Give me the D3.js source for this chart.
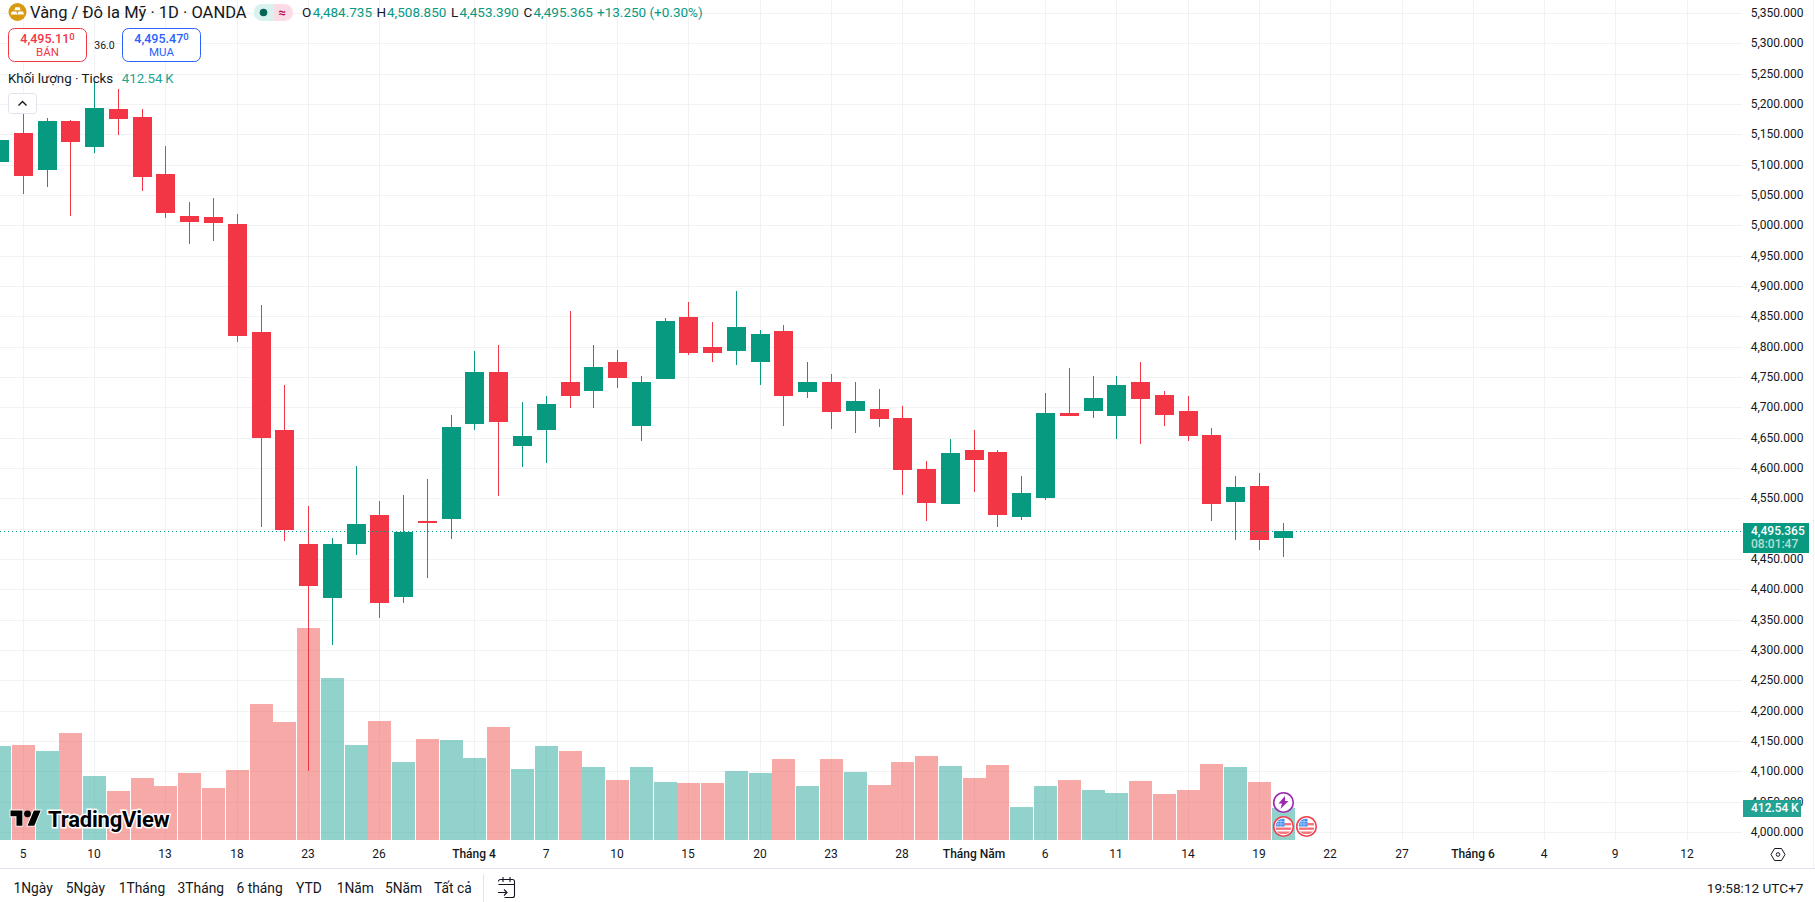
<!DOCTYPE html>
<html lang="vi">
<head>
<meta charset="utf-8">
<title>Vàng / Đô la Mỹ · 1D · OANDA</title>
<script src="https://cdn.jsdelivr.net/npm/d3@7/dist/d3.min.js"></script>
<style>
  html, body { margin: 0; padding: 0; background: #fff; overflow: hidden; }
  svg { display: block; }
  text { font-family: Roboto, "Liberation Sans", sans-serif; fill: #131722; }
</style>
</head>
<body>
<svg id="chart" width="1815" height="902"></svg>
<script>
// Daily OHLC for XAU/USD; the first session sits just left of the visible pane.
const firstBar = -1;
const opens = [5105,5153,5091,5172,5128.5,5192,5179,5085,5016,5013,5003,4825,4662,4474,4385,4475,4523,4388,4513,4516,4673,4759,4637,4662,4742,4727,4774,4670,4746,4849,4800,4793,4774,4826,4726,4742,4694,4698,4683,4599,4540,4630,4627,4520,4551,4691,4694,4686,4741,4721,4694,4655,4544,4571,4484.735];
const highs = [5156,5207,5177,5173,5237,5224,5192,5130,5039,5045,5018,4868,4737,4538,4485,4604,4546,4556,4582,4688,4793,4802,4708,4719,4859,4802,4795,4751,4848,4873,4840,4892,4828,4835,4774,4755,4741,4731,4703,4612,4648,4662,4630,4587,4724,4765,4751,4751,4775,4727,4719,4666,4586,4591,4508.85];
const lows = [5096,5052,5064,5016,5119,5149,5056,5011.5,4969,4975,4808,4503,4479,4101,4308,4457,4352,4378,4419,4483,4663,4554,4602,4609,4699,4699,4732,4645,4746,4787,4774,4769,4737,4670,4716,4665,4658,4668,4556,4512,4540,4561,4502,4515,4548,4686,4683,4648,4640,4670,4645,4512,4482,4465,4453.39];
const closes = [5141,5081,5172,5137,5194,5176,5079,5020,5006,5004,4818,4650,4497,4406,4475,4508,4378,4495,4510,4668,4759,4676,4652,4706,4718,4767,4749,4741,4843,4790,4790,4833,4821,4719,4741,4693,4711,4681,4596,4543,4624,4614,4523,4558,4691,4686,4716,4736,4714,4688,4652,4540,4568,4482,4495.365];
// Tick volume in thousands, one per session.
const volumes = [1212,1225,1147,1379,825,632,799,696,864,670,902,1753,1521,2733,2088,1225,1534,1005,1302,1289,1057,1457,915,1212,1147,941,773,941,748,735,735,889,864,1044,696,1044,877,709,1005,1083,954,799,967,425,696,773,645,606,761,593,645,980,941,748,412.54];
// Volume colours are fixed per session, following the direction of the feed's previous close.
const volumeUp = [1,0,1,0,1,0,0,0,0,0,0,0,0,0,1,1,0,1,0,1,1,0,1,1,0,1,0,1,1,0,0,1,1,0,1,0,1,0,0,0,1,0,0,1,1,0,1,1,0,0,0,0,1,0,1];

const priceTicks = d3.range(4000, 5351, 50);
const dateTickBars = [0,3,6,9,12,15,19,22,25,28,31,34,37,40,43,46,49,52,55,58,61,64,67,70];
const dateTickLabels = ["5","10","13","18","23","26","Tháng 4","7","10","15","20","23","28","Tháng Năm","6","11","14","19","22","27","Tháng 6","4","9","12"];
const monthLabels = ["Tháng 4","Tháng Năm","Tháng 6"];
const rangeButtons = ["1Ngày","5Ngày","1Tháng","3Tháng","6 tháng","YTD","1Năm","5Năm","Tất cả"];
const rangeButtonLefts = [13.5,65.7,118.7,177.6,236.5,296,336.7,385,434];

const lastPrice = closes[closes.length - 1];
const lastVolume = volumes[volumes.length - 1];

const UP = "#089981", DOWN = "#f23645";
const VOL_UP = "rgb(38,166,154)", VOL_DOWN = "rgb(239,83,80)";
const GRID = "#f1f2f3";
const paneRight = 1742, paneBottom = 840;

const svg = d3.select("#chart");

// Bars land on whole pixel columns, so the scale floors its output.
const x = d3.scaleLinear().domain([0, 70]).range([23.3, 1687.3])
  .interpolate((a, b) => t => Math.floor(a + t * (b - a)));
const y = d3.scaleLinear().domain([4000, 5350]).rangeRound([832, 13]);
const vol = d3.scaleLinear().domain([0, 412.54]).range([840, 808]);

// Grid lines and tick labels come from the two axes.
const yAxis = d3.axisRight(y).tickValues(priceTicks)
  .tickFormat(d3.format(",.3f")).tickSize(paneRight).tickPadding(0);
const xAxis = d3.axisBottom(x).tickValues(dateTickBars)
  .tickFormat((d, i) => dateTickLabels[i]).tickSize(paneBottom).tickPadding(0);

const gridY = svg.append("g").attr("class", "axis-y").call(yAxis);
gridY.select(".domain").remove();
gridY.selectAll(".tick line").attr("stroke", GRID);
gridY.selectAll(".tick text")
  .attr("x", 1803.5).attr("dy", "0.25em").attr("text-anchor", "end")
  .style("font-size", "12px").style("font-family", 'Roboto, sans-serif').attr("fill", "#131722");

const gridX = svg.append("g").attr("class", "axis-x").call(xAxis);
gridX.select(".domain").remove();
gridX.selectAll(".tick line").attr("stroke", GRID);
gridX.selectAll(".tick text")
  .attr("x", -0.5).attr("y", 854).attr("dy", "0.35em").attr("text-anchor", "middle")
  .style("font-size", "12px").style("font-family", 'Roboto, sans-serif')
  .style("font-weight", d => monthLabels.includes(dateTickLabels[dateTickBars.indexOf(d)]) ? 500 : 400)
  .attr("fill", "#131722");

// Tick volume histogram.
svg.append("g").attr("class", "volume").selectAll("rect").data(volumes).join("rect")
  .attr("x", (d, i) => x(i + firstBar) - 11)
  .attr("width", 23)
  .attr("y", d => vol(d))
  .attr("height", d => paneBottom - vol(d))
  .attr("fill", (d, i) => volumeUp[i] ? VOL_UP : VOL_DOWN)
  .attr("fill-opacity", 0.5);

// Candlesticks: wick first, then the body on top.
const candles = svg.append("g").attr("class", "candles").selectAll("g").data(opens).join("g")
  .attr("fill", (d, i) => closes[i] >= opens[i] ? UP : DOWN);
candles.append("rect")
  .attr("x", (d, i) => x(i + firstBar)).attr("width", 1)
  .attr("y", (d, i) => y(highs[i]))
  .attr("height", (d, i) => y(lows[i]) - y(highs[i]));
candles.append("rect")
  .attr("x", (d, i) => x(i + firstBar) - 9).attr("width", 19)
  .attr("y", (d, i) => y(Math.max(opens[i], closes[i])))
  .attr("height", (d, i) => Math.max(1, Math.abs(y(opens[i]) - y(closes[i]))));

// Current price line.
svg.append("line").attr("x1", 0).attr("x2", paneRight)
  .attr("y1", y(lastPrice) + 0.5).attr("y2", y(lastPrice) + 0.5)
  .attr("stroke", UP).attr("stroke-width", 1).attr("stroke-dasharray", "1 3");

// Frame of the price and time scales.
svg.append("rect").attr("x", 0).attr("y", 868).attr("width", 1815).attr("height", 1).attr("fill", "#e0e3eb");
svg.append("rect").attr("x", 1813).attr("y", 0).attr("width", 1).attr("height", 868).attr("fill", "#f0f3fa");

// Last price badge with the session countdown.
const priceBadge = svg.append("g");
priceBadge.append("rect").attr("x", 1743).attr("y", y(lastPrice) - 8).attr("width", 66).attr("height", 30).attr("fill", UP);
priceBadge.append("text").attr("x", 1751).attr("y", y(lastPrice) - 0.5).attr("dy", "0.35em")
  .style("font-size", "12px").style("font-weight", 500).style("fill", "#fff").text(d3.format(",.3f")(lastPrice));
priceBadge.append("text").attr("x", 1751).attr("y", y(lastPrice) + 13).attr("dy", "0.35em")
  .style("font-size", "12px").style("font-weight", 500).style("fill", "rgba(255,255,255,0.7)").text("08:01:47");

// Last volume badge.
const volumeBadge = svg.append("g");
volumeBadge.append("rect").attr("x", 1743).attr("y", vol(lastVolume) - 8).attr("width", 58).attr("height", 17).attr("fill", "#22a394");
volumeBadge.append("text").attr("x", 1751).attr("y", vol(lastVolume)).attr("dy", "0.35em")
  .style("font-size", "12px").style("font-weight", 500).style("fill", "#fff").text(lastVolume + "\u2009K");

// Legend row: symbol icon, title, session state and OHLC read-out.
const legend = svg.append("g");
legend.append("circle").attr("cx", 17.5).attr("cy", 12).attr("r", 9).attr("fill", "#d99a11");
legend.append("path").attr("d", "M15.4 7.2h4.2l1.1 3h-6.4zM11.8 11.4h4.6l1 3.2h-6.6zM18.4 11.4h4.6l1 3.2h-6.6z").attr("fill", "#fff");
legend.append("text").attr("x", 30).attr("y", 12.5).attr("dy", "0.35em").style("font-size", "16.5px").text("Vàng / Đô la Mỹ · 1D · OANDA");

legend.append("path").attr("d", "M262 4h12v17h-12a8.5 8.5 0 0 1 0-17z").attr("fill", "#daf2ee");
legend.append("path").attr("d", "M274 4h10.5a8.5 8.5 0 0 1 0 17h-10.5z").attr("fill", "#fbdce6");
legend.append("circle").attr("cx", 263.5).attr("cy", 12.5).attr("r", 3.8).attr("fill", "#056656");
legend.append("text").attr("x", 282).attr("y", 12.5).attr("dy", "0.35em").attr("text-anchor", "middle")
  .style("font-size", "13px").style("font-weight", 700).style("fill", "#b5115b").text("≈");

const readout = [
  ["O", 302, d3.format(",.3f")(opens[opens.length - 1]), 312.7],
  ["H", 376.5, d3.format(",.3f")(highs[highs.length - 1]), 387],
  ["L", 451, d3.format(",.3f")(lows[lows.length - 1]), 459.5],
  ["C", 523.4, d3.format(",.3f")(lastPrice), 533.5]
];
readout.forEach(([key, kx, value, vx]) => {
  legend.append("text").attr("x", kx).attr("y", 12.5).attr("dy", "0.35em").style("font-size", "13.5px").text(key);
  legend.append("text").attr("x", vx).attr("y", 12.5).attr("dy", "0.35em").style("font-size", "13.5px").style("fill", UP).text(value);
});
legend.append("text").attr("x", 597).attr("y", 12.5).attr("dy", "0.35em").style("font-size", "13.5px").style("fill", UP).text("+13.250 (+0.30%)");

// Sell and buy quote boxes.
const quotes = [
  { left: 8.5, width: 78, color: DOWN, whole: "4,495.11", small: "0", label: "BÁN" },
  { left: 122.5, width: 78, color: "#2962ff", whole: "4,495.47", small: "0", label: "MUA" }
];
quotes.forEach(q => {
  const g = svg.append("g");
  g.append("rect").attr("x", q.left).attr("y", 28.5).attr("width", q.width).attr("height", 33).attr("rx", 6)
    .attr("fill", "#fff").attr("stroke", q.color);
  const t = g.append("text").attr("x", q.left + q.width / 2).attr("y", 38.5).attr("dy", "0.35em").attr("text-anchor", "middle")
    .style("font-size", "12.5px").style("font-weight", 500).style("fill", q.color);
  t.append("tspan").text(q.whole);
  t.append("tspan").attr("dy", "-0.3em").style("font-size", "9.5px").text(q.small);
  g.append("text").attr("x", q.left + q.width / 2).attr("y", 52).attr("dy", "0.35em").attr("text-anchor", "middle")
    .style("font-size", "11.5px").style("fill", q.color).text(q.label);
});
svg.append("text").attr("x", 104.5).attr("y", 45).attr("dy", "0.35em").attr("text-anchor", "middle")
  .style("font-size", "10.5px").text("36.0");

// Volume study legend.
svg.append("text").attr("x", 8).attr("y", 78).attr("dy", "0.35em").style("font-size", "13.3px").text("Khối lượng · Ticks");
svg.append("text").attr("x", 121.7).attr("y", 78).attr("dy", "0.35em").style("font-size", "13.3px").style("fill", "#22a394").text("412.54\u2009K");

// Collapse button for the legend.
svg.append("rect").attr("x", 8.5).attr("y", 93.5).attr("width", 28).attr("height", 20).attr("rx", 3)
  .attr("fill", "#fff").attr("stroke", "#e0e3eb");
svg.append("path").attr("d", "M18.5 105.5l4-4 4 4").attr("fill", "none").attr("stroke", "#131722").attr("stroke-width", 1.4);

// Brand mark over the lower left of the pane.
const brand = svg.append("g");
brand.append("g").attr("transform", "translate(10.5,807) scale(0.85)").call(g => {
  g.append("path").attr("d", "M14 22H7V11H0V4h14v18zM28 22h-8l7.5-18h8L28 22z").attr("fill", "#000").attr("stroke", "#fff").attr("stroke-width", 2).style("paint-order", "stroke");
  g.append("circle").attr("cx", 20).attr("cy", 8).attr("r", 4).attr("fill", "#000");
});
brand.append("text").attr("x", 48).attr("y", 819.5).attr("dy", "0.35em")
  .style("font-size", "22px").style("font-weight", 700).style("letter-spacing", "-0.2px")
  .style("stroke", "#fff").style("stroke-width", "3px").style("paint-order", "stroke").style("fill", "#000").text("TradingView");

// Event markers on the latest sessions.
function eventBadge(cx, cy, color) {
  return svg.append("g").attr("transform", `translate(${cx},${cy})`).call(g => {
    g.append("circle").attr("r", 9.8).attr("fill", "#fff").attr("stroke", color).attr("stroke-width", 1.6);
  });
}
eventBadge(x(53) + 0.5, 802.5, "#9c27b0").append("path")
  .attr("d", "M1.5-6.5L-5 1h3.5L-3 6.5 5-1.5H1.5z").attr("fill", "#9c27b0");
[[x(53) + 0.5, 826.5, "flag-a"], [x(54) + 0.5, 826.5, "flag-b"]].forEach(([cx, cy, id]) => {
  const g = eventBadge(cx, cy, "#f2404f");
  g.append("clipPath").attr("id", id).append("circle").attr("r", 8);
  const art = g.append("g").attr("clip-path", `url(#${id})`);
  art.append("rect").attr("x", -8).attr("y", -3.5).attr("width", 16).attr("height", 2.4).attr("fill", "#f4727b");
  art.append("rect").attr("x", -8).attr("y", 1).attr("width", 16).attr("height", 2.4).attr("fill", "#f4727b");
  art.append("rect").attr("x", -8).attr("y", 5).attr("width", 16).attr("height", 2.4).attr("fill", "#f4727b");
  art.append("rect").attr("x", -8).attr("y", -8).attr("width", 9).attr("height", 8).attr("fill", "#3d8bf0");
  art.append("path").attr("d", "M-5.5-8V0M-2.5-8V0M-8-5H1M-8-2.5H1").attr("stroke", "#cfe3fb").attr("stroke-width", 0.6).attr("fill", "none");
});

// Scale settings glyph.
svg.append("g").attr("transform", "translate(1778,854.5)").call(g => {
  g.append("path").attr("d", "M-7 0L-3.5-6h7L7 0l-3.5 6h-7z").attr("fill", "none").attr("stroke", "#131722");
  g.append("circle").attr("r", 1.8).attr("fill", "none").attr("stroke", "#131722");
});

// Bottom toolbar.
const toolbar = svg.append("g");
rangeButtons.forEach((label, i) => {
  toolbar.append("text").attr("x", rangeButtonLefts[i]).attr("y", 888).attr("dy", "0.35em").style("font-size", "13.8px").text(label);
});
toolbar.append("rect").attr("x", 483).attr("y", 874).attr("width", 1).attr("height", 28).attr("fill", "#e0e3eb");
toolbar.append("path")
  .attr("d", "M498.5 881.5a2 2 0 0 1 2-2h12a2 2 0 0 1 2 2v14a2 2 0 0 1-2 2h-8M498.5 884.5h16M503 877v5M510 877v5M498 892.5h9M504 889.5l3 3-3 3")
  .attr("fill", "none").attr("stroke", "#131722").attr("stroke-width", 1.1);
toolbar.append("text").attr("x", 1803.5).attr("y", 888).attr("dy", "0.35em").attr("text-anchor", "end").style("font-size", "13.6px").text("19:58:12 UTC+7");
</script>
</body>
</html>
